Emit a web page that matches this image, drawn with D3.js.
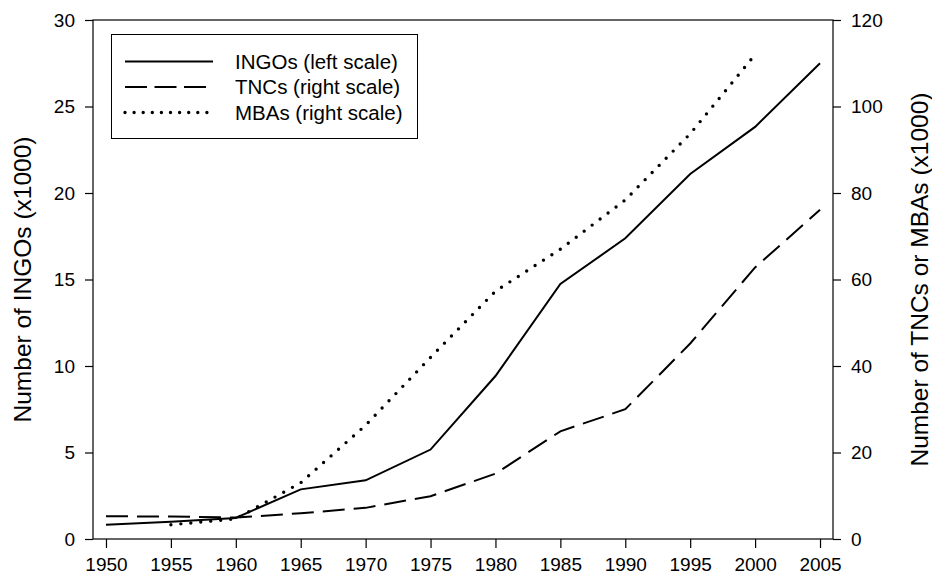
<!DOCTYPE html>
<html>
<head>
<meta charset="utf-8">
<script src="https://d3js.org/d3.v7.min.js"></script>
<style>
  body { margin: 0; background: #fff; }
  svg { font-family: "Liberation Sans", Arial, sans-serif; }
  .tick text { font-size: 19px; fill: #000; }
  .tick line { stroke: #000; stroke-width: 1.2; }
</style>
</head>
<body>
<svg></svg>
<script>
  var years = [1950, 1955, 1960, 1965, 1970, 1975, 1980, 1985, 1990, 1995, 2000, 2005];
  var ingos = [0.82, 1.0, 1.22, 2.87, 3.39, 5.17, 9.42, 14.74, 17.38, 21.1, 23.82, 27.5];
  var tncs = [5.25, 5.2, 4.95, 5.95, 7.2, 9.9, 15.1, 24.9, 30.0, 45.2, 62.8, 76.1];
  var mbaYears = [1955, 1960, 1965, 1970, 1975, 1980, 1985, 1990, 1995, 2000];
  var mbas = [3.3, 4.65, 13.0, 26.3, 42.0, 57.3, 67.0, 78.4, 93.7, 112.0];
  var leftTicks = [0, 5, 10, 15, 20, 25, 30];
  var rightTicks = [0, 20, 40, 60, 80, 100, 120];
  var legendLabels = ['INGOs (left scale)', 'TNCs (right scale)', 'MBAs (right scale)'];

  var width = 932;
  var height = 577;
  var plotLeft = 93, plotRight = 833, plotTop = 20, plotBottom = 539;

  var svg = d3.select('svg')
    .attr('width', width)
    .attr('height', height)
    ;

  var x = d3.scaleLinear().domain([1949, 2006]).range([plotLeft, plotRight]);
  var yL = d3.scaleLinear().domain([0, 30]).range([plotBottom, plotTop]);
  var yR = d3.scaleLinear().domain([0, 120]).range([plotBottom, plotTop]);

  // axes
  svg.append('g')
    .attr('transform', `translate(0,${plotBottom})`)
    .call(d3.axisBottom(x).tickValues(years).tickFormat(d3.format('d')).tickSize(9).tickPadding(5))
    .call(g => g.select('.domain').remove())
    .selectAll('text').attr('dy', '0.95em');

  svg.append('g')
    .attr('transform', `translate(${plotLeft},0)`)
    .call(d3.axisLeft(yL).tickValues(leftTicks).tickSize(8).tickPadding(10))
    .call(g => g.select('.domain').remove());

  svg.append('g')
    .attr('transform', `translate(${plotRight},0)`)
    .call(d3.axisRight(yR).tickValues(rightTicks).tickSize(8).tickPadding(10))
    .call(g => g.select('.domain').remove());

  // frame
  svg.append('rect')
    .attr('x', plotLeft)
    .attr('y', plotTop)
    .attr('width', plotRight - plotLeft)
    .attr('height', plotBottom - plotTop)
    .attr('fill', 'none')
    .attr('stroke', '#000')
    .attr('stroke-width', 1.2);

  // axis titles
  svg.append('text')
    .attr('transform', `translate(31,${(plotTop + plotBottom) / 2}) rotate(-90)`)
    .attr('text-anchor', 'middle')
    .style('font-size', '24.5px')
    .text('Number of INGOs (x1000)');

  svg.append('text')
    .attr('transform', `translate(928,${(plotTop + plotBottom) / 2}) rotate(-90)`)
    .attr('text-anchor', 'middle')
    .style('font-size', '24.5px')
    .text('Number of TNCs or MBAs (x1000)');

  // lines
  var lineL = d3.line()
    .x(function (d, i) { return x(years[i]); })
    .y(function (d) { return yL(d); });
  var lineR = d3.line()
    .x(function (d, i) { return x(years[i]); })
    .y(function (d) { return yR(d); });
  var lineM = d3.line()
    .x(function (d, i) { return x(mbaYears[i]); })
    .y(function (d) { return yR(d); });

  svg.append('path')
    .attr('d', lineR(tncs))
    .attr('fill', 'none')
    .attr('stroke', '#000')
    .attr('stroke-width', 2)
    .attr('stroke-dasharray', '22,9');

  svg.append('path')
    .attr('d', lineM(mbas))
    .attr('fill', 'none')
    .attr('stroke', '#000')
    .attr('stroke-width', 3.4)
    .attr('stroke-linecap', 'round')
    .attr('stroke-dasharray', '0,10');

  svg.append('path')
    .attr('d', lineL(ingos))
    .attr('fill', 'none')
    .attr('stroke', '#000')
    .attr('stroke-width', 2);

  // legend
  var legend = svg.append('g');
  legend.append('rect')
    .attr('x', 111.5)
    .attr('y', 34.5)
    .attr('width', 306)
    .attr('height', 104)
    .attr('fill', '#fff')
    .attr('stroke', '#000')
    .attr('stroke-width', 1);

  var dashes = ['none', '22,7.5', '0,9.1'];
  var widths = [2, 2, 3.4];
  var row = legend.selectAll('g.row')
    .data(legendLabels)
    .enter()
    .append('g')
    .attr('class', 'row')
    .attr('transform', function (d, i) { return `translate(0,${61.5 + i * 25.5})`; });

  row.append('line')
    .attr('x1', 125)
    .attr('x2', 213)
    .attr('stroke', '#000')
    .attr('stroke-width', function (d, i) { return widths[i]; })
    .attr('stroke-linecap', function (d, i) { return i === 2 ? 'round' : 'butt'; })
    .attr('stroke-dasharray', function (d, i) { return dashes[i]; });

  row.append('text')
    .attr('x', 235)
    .attr('y', 7)
    .style('font-size', '20.5px')
    .text(function (d) { return d; });
</script>
</body>
</html>
